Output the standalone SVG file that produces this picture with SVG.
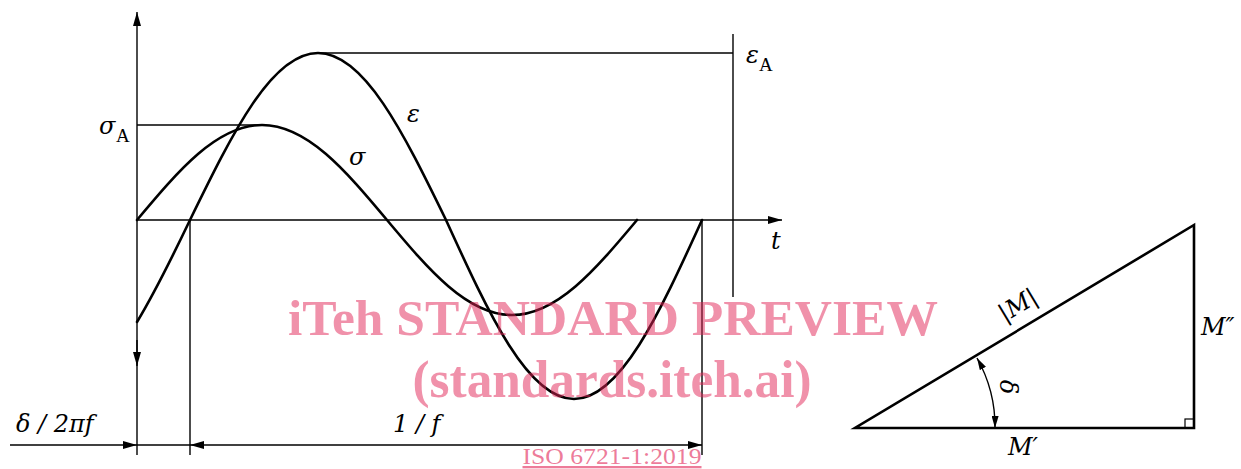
<svg xmlns="http://www.w3.org/2000/svg" width="1241" height="469" viewBox="0 0 1241 469">
<style>
.thin{stroke:#000;stroke-width:1.4;fill:none}
.curve{stroke:#000;stroke-width:2.6;fill:none;stroke-linecap:round}
.tri{stroke:#000;stroke-width:2.6;fill:none;stroke-linejoin:miter}
.m{font-family:"DejaVu Serif","Liberation Serif",serif;font-style:italic;font-size:24px;fill:#000}
.sub{font-family:"Liberation Serif","DejaVu Serif",serif;font-size:19px;fill:#000}
.wm{font-family:"Liberation Serif",serif;font-weight:bold;fill:#E12355;fill-opacity:0.5}
</style>
<defs>
<marker id="arr" viewBox="0 0 14 8" refX="14" refY="4" markerWidth="14" markerHeight="8" markerUnits="userSpaceOnUse" orient="auto-start-reverse">
<path d="M0,0 L14,4 L0,8 Z" fill="#000"/>
</marker>
<marker id="arrs" viewBox="0 0 12 7" refX="12" refY="3.5" markerWidth="12" markerHeight="7" markerUnits="userSpaceOnUse" orient="auto-start-reverse">
<path d="M0,0 L12,3.5 L0,7 Z" fill="#000"/>
</marker>
</defs>
<g id="axes">
<line class="thin" x1="137" y1="455" x2="137" y2="12" marker-end="url(#arr)"/>
<line class="thin" x1="137" y1="340" x2="137" y2="366" marker-end="url(#arr)"/>
<line class="thin" x1="137" y1="220" x2="782" y2="220" marker-end="url(#arr)"/>
<line class="thin" x1="137" y1="125" x2="263" y2="125"/>
<line class="thin" x1="318" y1="53" x2="733" y2="53"/>
<line class="thin" x1="733" y1="34" x2="733" y2="297"/>
<line class="thin" x1="190" y1="220" x2="190" y2="455"/>
<line class="thin" x1="702" y1="220" x2="702" y2="455"/>
</g>
<g id="curve-sigma">
<path class="curve" d="M137,220 C178.8,170.1 217,125 262,125 C307,125 345.2,170.1 387,220 C428.8,269.9 467,315 512,315 C557,315 595.2,269.9 637,220"/>
</g>
<g id="curve-epsilon">
<path class="curve" d="M137,322 C154.7,292.6 172.3,257 190,220 C232.8,132.3 271.9,53 318,53 C364.1,53 403.2,132.3 446,220 C488.8,314 527.9,399 574,399 C620.1,399 659.2,314 702,220"/>
</g>
<g id="connectors">
<line class="thin" x1="10" y1="445" x2="137" y2="445" marker-end="url(#arr)"/>
<line class="thin" x1="137" y1="445" x2="190" y2="445"/>
<line class="thin" x1="190" y1="445" x2="702" y2="445" marker-start="url(#arr)" marker-end="url(#arr)"/>
</g>
<g id="labels">
<text class="m" x="99" y="134">σ</text><text class="sub" x="116" y="142">A</text>
<text class="m" x="407" y="122">ε</text>
<text class="m" x="349" y="165">σ</text>
<text class="m" x="746" y="63">ε</text><text class="sub" x="759" y="71">A</text>
<text class="m" x="771" y="249">t</text>
<text class="m" x="16" y="432">δ / 2πf</text>
<text class="m" x="393" y="432">1 / f</text>
</g>
<g id="triangle">
<path class="tri" d="M855,428 L1194,428 L1194,225 Z"/>
<rect x="1185" y="419" width="9" height="9" fill="none" stroke="#000" stroke-width="1.2"/>
<path class="thin" d="M977,358 A140,140 0 0 1 995,428" marker-start="url(#arrs)" marker-end="url(#arrs)"/>
<text class="m" x="0" y="0" text-anchor="middle" transform="translate(1022,312) rotate(-30.9)">|M|</text>
<text class="m" x="0" y="0" text-anchor="middle" transform="translate(1000,387) rotate(90)">δ</text>
<text class="m" x="1201" y="335">M″</text>
<text class="m" x="1008" y="455">M′</text>
</g>
<g id="watermark">
<text class="wm" x="613" y="335" font-size="50" text-anchor="middle" textLength="650" lengthAdjust="spacingAndGlyphs">iTeh STANDARD PREVIEW</text>
<text class="wm" x="612" y="397" font-size="52" text-anchor="middle" textLength="399" lengthAdjust="spacingAndGlyphs">(standards.iteh.ai)</text>
<text class="wm" x="612" y="464" font-size="23" text-anchor="middle" text-decoration="underline" textLength="179" lengthAdjust="spacingAndGlyphs" style="font-weight:normal;fill-opacity:0.6">ISO 6721-1:2019</text>
</g>
</svg>
